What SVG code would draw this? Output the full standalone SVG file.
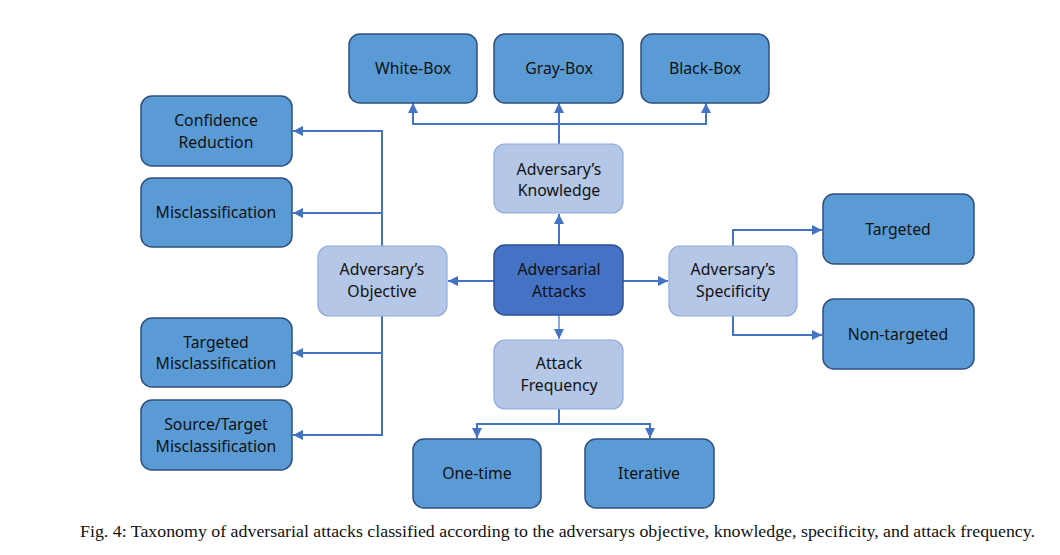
<svg xmlns="http://www.w3.org/2000/svg" width="1060" height="555" viewBox="0 0 1060 555">
<style>
.d{fill:#5B9BD5;stroke:#2F4F7F;stroke-width:1.5}
.l{fill:#B4C7E7;stroke:#8FAADC;stroke-width:1.2}
.c{fill:#4472C4;stroke:#2F528F;stroke-width:1.5}
text.t{font-family:"Noto Sans","Open Sans",sans-serif;font-size:15.8px;fill:#111;text-anchor:middle}
.cn{fill:none;stroke:#4472C4;stroke-width:2}
.cap{font-family:"Liberation Serif","Times New Roman",serif;font-size:16px;fill:#111}
</style>
<defs>
<marker id="a" viewBox="0 0 10 10" refX="10" refY="5" markerWidth="10" markerHeight="10" orient="auto" markerUnits="userSpaceOnUse">
<path d="M0,0 L10,5 L0,10 z" fill="#4472C4"/>
</marker>
</defs>
<rect width="1060" height="555" fill="#fff"/>
<g id="connectors">
<path class="cn" d="M559,245 V214" marker-end="url(#a)"/>
<path class="cn" d="M559,144 V103" marker-end="url(#a)"/>
<path class="cn" d="M413,113 V124 H706 V113"/>
<path class="cn" d="M413,124 V103" marker-end="url(#a)"/>
<path class="cn" d="M706,124 V103" marker-end="url(#a)"/>
<path class="cn" d="M494,281 H448" marker-end="url(#a)"/>
<path class="cn" d="M623,281 H668" marker-end="url(#a)"/>
<path class="cn" d="M382,246 V131 H293" marker-end="url(#a)"/>
<path class="cn" d="M382,213 H293" marker-end="url(#a)"/>
<path class="cn" d="M382,316 V435 H293" marker-end="url(#a)"/>
<path class="cn" d="M382,353 H293" marker-end="url(#a)"/>
<path class="cn" d="M733,246 V230 H822" marker-end="url(#a)"/>
<path class="cn" d="M733,316 V335 H822" marker-end="url(#a)"/>
<path class="cn" style="stroke-width:1.2" d="M559,315 V339" marker-end="url(#a)"/>
<path class="cn" d="M559,409 V424 H477 V438" marker-end="url(#a)"/>
<path class="cn" d="M559,424 H650 V438" marker-end="url(#a)"/>
</g>
<g id="white-box"><rect class="d" x="349" y="34" width="128" height="69" rx="11"/><text class="t" x="413" y="74">White-Box</text></g>
<g id="gray-box"><rect class="d" x="494" y="34" width="129" height="69" rx="11"/><text class="t" x="559" y="74">Gray-Box</text></g>
<g id="black-box"><rect class="d" x="641" y="34" width="128" height="69" rx="11"/><text class="t" x="705" y="74">Black-Box</text></g>
<g id="knowledge"><rect class="l" x="494" y="144" width="129" height="69" rx="11"/><text class="t" x="559" y="175">Adversary’s</text><text class="t" x="559" y="196">Knowledge</text></g>
<g id="attacks"><rect class="c" x="494" y="245" width="129" height="70" rx="11"/><text class="t" x="559" y="275">Adversarial</text><text class="t" x="559" y="297">Attacks</text></g>
<g id="objective"><rect class="l" x="318" y="246" width="129" height="70" rx="11"/><text class="t" x="382" y="275">Adversary’s</text><text class="t" x="382" y="297">Objective</text></g>
<g id="specificity"><rect class="l" x="669" y="246" width="128" height="70" rx="11"/><text class="t" x="733" y="275">Adversary’s</text><text class="t" x="733" y="297">Specificity</text></g>
<g id="frequency"><rect class="l" x="494" y="340" width="129" height="69" rx="11"/><text class="t" x="559" y="369">Attack</text><text class="t" x="559" y="391">Frequency</text></g>
<g id="confidence-reduction"><rect class="d" x="141" y="96" width="151" height="70" rx="11"/><text class="t" x="216" y="126">Confidence</text><text class="t" x="216" y="148">Reduction</text></g>
<g id="misclassification"><rect class="d" x="141" y="178" width="151" height="69" rx="11"/><text class="t" x="216" y="218">Misclassification</text></g>
<g id="targeted-misclassification"><rect class="d" x="141" y="318" width="151" height="69" rx="11"/><text class="t" x="216" y="348">Targeted</text><text class="t" x="216" y="369">Misclassification</text></g>
<g id="source-target-misclassification"><rect class="d" x="141" y="400" width="151" height="70" rx="11"/><text class="t" x="216" y="430">Source/Target</text><text class="t" x="216" y="452">Misclassification</text></g>
<g id="targeted"><rect class="d" x="823" y="194" width="151" height="70" rx="11"/><text class="t" x="898" y="235">Targeted</text></g>
<g id="non-targeted"><rect class="d" x="823" y="299" width="151" height="70" rx="11"/><text class="t" x="898" y="340">Non-targeted</text></g>
<g id="one-time"><rect class="d" x="413" y="439" width="128" height="69" rx="11"/><text class="t" x="477" y="479">One-time</text></g>
<g id="iterative"><rect class="d" x="585" y="439" width="129" height="69" rx="11"/><text class="t" x="649" y="479">Iterative</text></g>
<text class="cap" x="80" y="537" textLength="955" lengthAdjust="spacingAndGlyphs">Fig. 4: Taxonomy of adversarial attacks classified according to the adversarys objective, knowledge, specificity, and attack frequency.</text>
</svg>
